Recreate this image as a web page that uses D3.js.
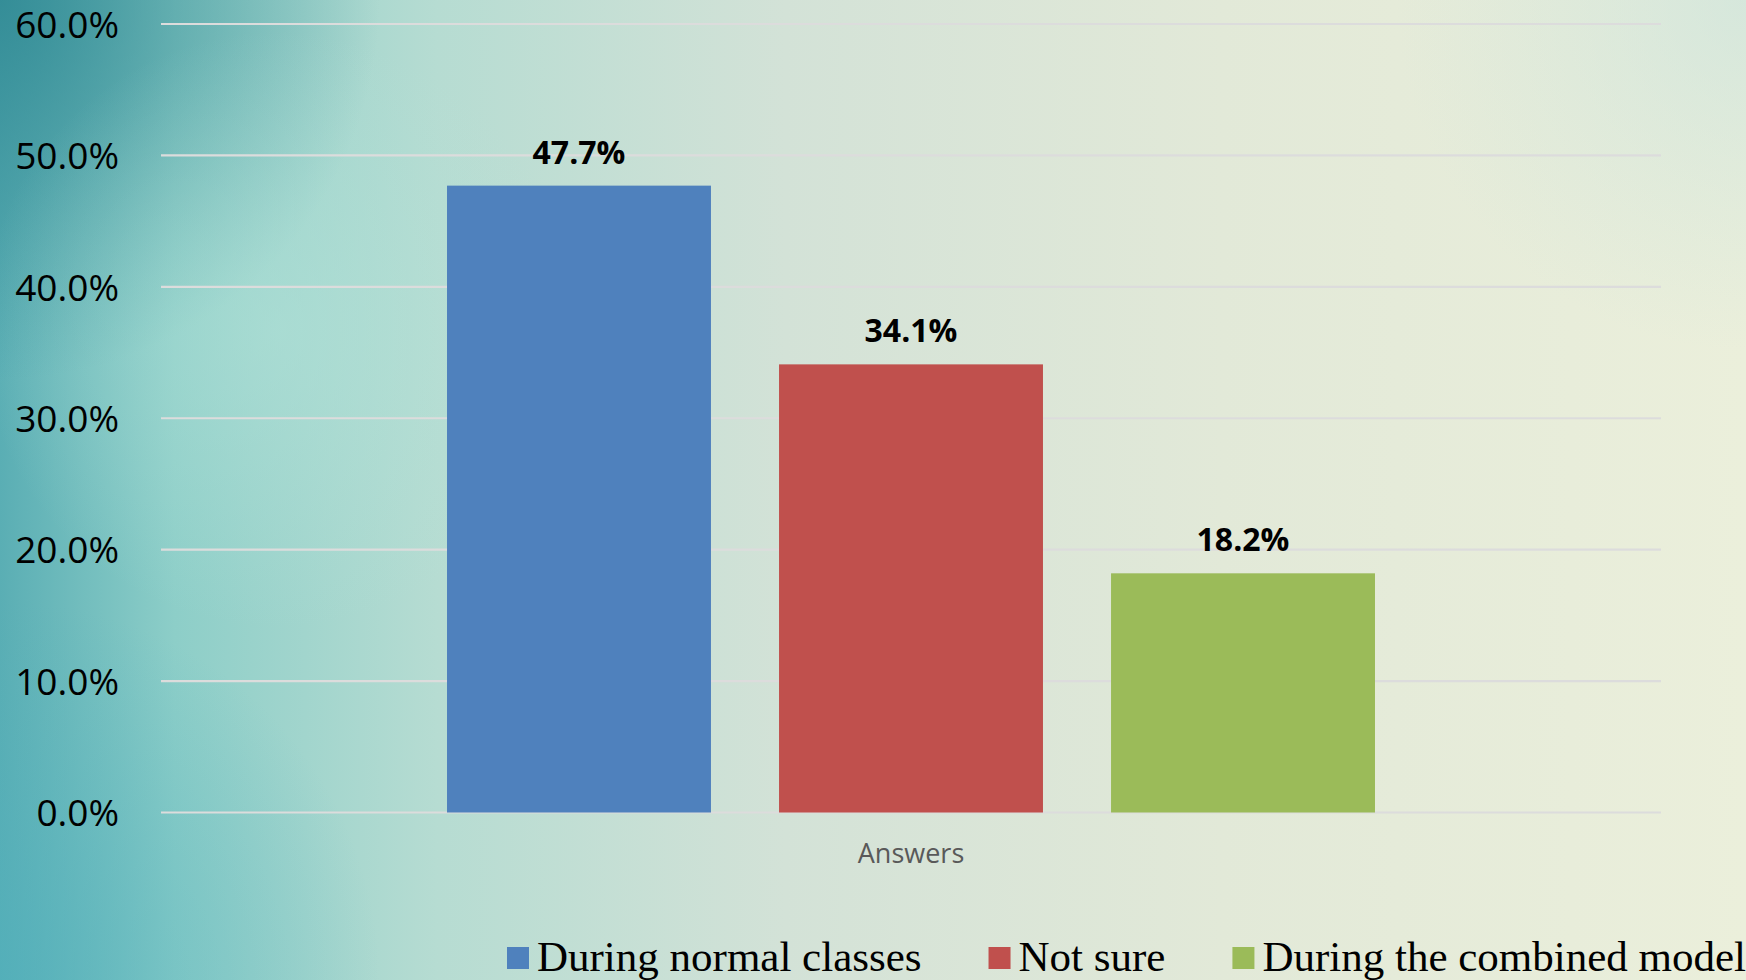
<!DOCTYPE html>
<html>
<head>
<meta charset="utf-8">
<script src="https://cdn.jsdelivr.net/npm/d3@7/dist/d3.min.js"></script>
<style>
  html, body { margin: 0; padding: 0; overflow: hidden; }
  svg { display: block; }
</style>
</head>
<body>
<div id="chart"></div>
<script>
// data
var categories = ["Answers"];
var series = ["During normal classes", "Not sure", "During the combined model"];
var values = [0.477, 0.341, 0.182];
var colors = ["#4F81BD", "#C0504D", "#9BBB59"];
var yTicks = [0, 0.1, 0.2, 0.3, 0.4, 0.5, 0.6];

var W = 1746, H = 980;
var margin = {top: 24, right: 85, bottom: 167.5, left: 161};
var width = W - margin.left - margin.right,
    height = H - margin.top - margin.bottom;

var svg = d3.select("#chart").append("svg")
    .attr("width", W)
    .attr("height", H);

// background: teal on the left fading into cream on the right
var defs = svg.append("defs");
var lin = defs.append("linearGradient").attr("id", "bgLin")
    .attr("x1", "0%").attr("x2", "100%").attr("y1", "0%").attr("y2", "0%");
[["0%", "#5aaeb4"], ["10%", "#8dcec8"], ["25%", "#b6dcd2"], ["45%", "#d3e2d7"], ["70%", "#e2e9d8"], ["100%", "#ebefdb"]]
  .forEach(function(s) { lin.append("stop").attr("offset", s[0]).attr("stop-color", s[1]); });

function radial(id, cx, cy, r, col, op) {
  var g = defs.append("radialGradient").attr("id", id)
      .attr("gradientUnits", "userSpaceOnUse")
      .attr("cx", cx).attr("cy", cy).attr("r", r);
  g.append("stop").attr("offset", "0%").attr("stop-color", col).attr("stop-opacity", op);
  g.append("stop").attr("offset", "100%").attr("stop-color", col).attr("stop-opacity", 0);
}
radial("rTL", 0, 0, 380, "#2b8590", 0.8);
radial("rBL", 0, 980, 380, "#4fb0bd", 0.6);
radial("rML", 280, 330, 300, "#b2e2d8", 0.55);
radial("rTR", 1746, 0, 350, "#c8e2dc", 0.6);

svg.append("rect").attr("width", W).attr("height", H).attr("fill", "url(#bgLin)");
["rTL", "rBL", "rML", "rTR"].forEach(function(id) {
  svg.append("rect").attr("width", W).attr("height", H).attr("fill", "url(#" + id + ")");
});

var focus = svg.append("g")
    .attr("transform", "translate(" + margin.left + "," + margin.top + ")");

var y = d3.scaleLinear().domain([0, 0.6]).range([height, 0]);
var x0 = d3.scaleBand().domain(categories).range([0, width]).padding(0.2356);
var x1 = d3.scaleBand().domain(series).range([0, x0.bandwidth()]).paddingInner(0.205).paddingOuter(0);
var color = d3.scaleOrdinal().domain(series).range(colors);

// gridlines
focus.selectAll(".grid").data(yTicks).enter().append("line")
    .attr("class", "grid")
    .attr("x1", 0).attr("x2", width)
    .attr("y1", function(d) { return y(d); })
    .attr("y2", function(d) { return y(d); })
    .attr("stroke", "#dcdcdc")
    .attr("stroke-width", 2.2);

// y axis labels
var yAxis = d3.axisLeft(y).tickValues(yTicks).tickFormat(d3.format(".1%")).tickSize(0).tickPadding(42);
var yg = focus.append("g").call(yAxis);
yg.select(".domain").remove();
yg.selectAll("text")
    .attr("fill", "#000")
    .attr("dy", "0.36em")
    .style("font-family", "'Open Sans', sans-serif")
    .style("font-size", "37px");

// bars
var group = focus.selectAll(".cat").data(categories).enter().append("g")
    .attr("class", "cat")
    .attr("transform", function(d) { return "translate(" + x0(d) + ",0)"; });

group.selectAll("rect").data(series).enter().append("rect")
    .attr("x", function(d) { return x1(d); })
    .attr("width", x1.bandwidth())
    .attr("y", function(d, i) { return y(values[i]); })
    .attr("height", function(d, i) { return height - y(values[i]); })
    .attr("fill", function(d) { return color(d); });

group.selectAll(".lbl").data(series).enter().append("text")
    .attr("class", "lbl")
    .attr("x", function(d) { return x1(d) + x1.bandwidth() / 2; })
    .attr("y", function(d, i) { return y(values[i]) - 22; })
    .attr("text-anchor", "middle")
    .style("font-family", "'Open Sans', sans-serif")
    .style("font-weight", "bold")
    .style("font-size", "32px")
    .attr("fill", "#000")
    .text(function(d, i) { return d3.format(".1%")(values[i]); });

// category label
var xAxis = d3.axisBottom(x0).tickSize(0).tickPadding(31);
var xg = focus.append("g").attr("transform", "translate(0," + height + ")").call(xAxis);
xg.select(".domain").remove();
xg.selectAll("text")
    .attr("fill", "#595959")
    .style("font-family", "'Open Sans', sans-serif")
    .style("font-size", "27px");

// legend
var legend = svg.append("g").attr("transform", "translate(507,971)");
var lx = 0;
series.forEach(function(s) {
  var item = legend.append("g").attr("transform", "translate(" + lx + ",0)");
  item.append("rect")
      .attr("x", 0).attr("y", -24)
      .attr("width", 22).attr("height", 22)
      .attr("fill", color(s));
  var t = item.append("text")
      .attr("x", 30).attr("y", 0)
      .style("font-family", "'Liberation Serif', 'Times New Roman', serif")
      .style("font-size", "43px")
      .attr("fill", "#000")
      .text(s);
  lx += 30 + t.node().getComputedTextLength() + 67;
});
</script>
</body>
</html>
